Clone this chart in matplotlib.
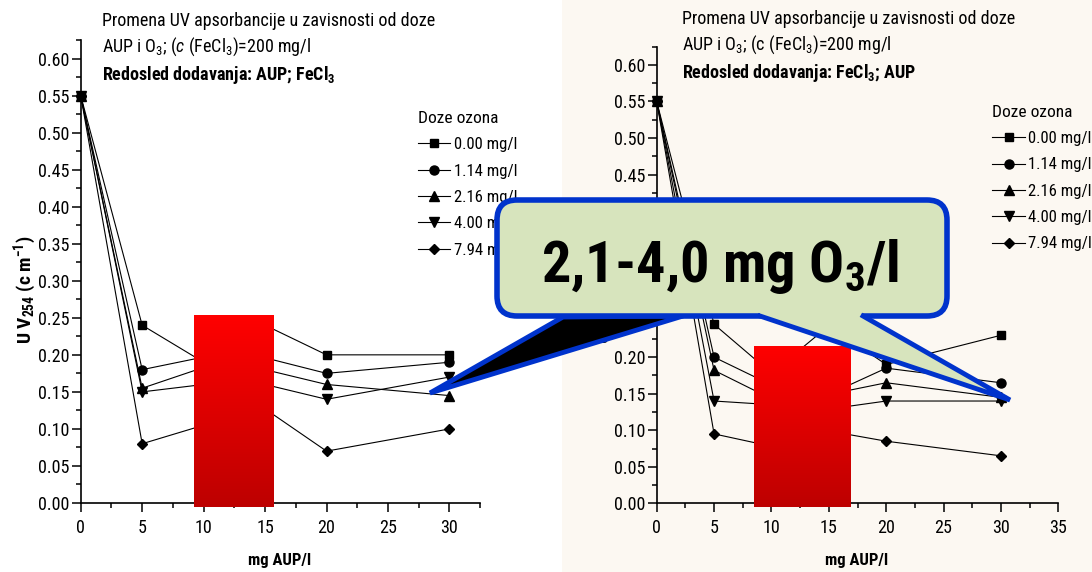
import numpy as np
import matplotlib
matplotlib.use("Agg")
import matplotlib.pyplot as plt
from matplotlib.patches import FancyBboxPatch, Polygon, Rectangle
from matplotlib.colors import LinearSegmentedColormap
from matplotlib.ticker import MultipleLocator, FormatStrFormatter
from matplotlib import font_manager

# data
aup = [0, 5, 10, 15, 20, 30]
doses = ["0.00 mg/l", "1.14 mg/l", "2.16 mg/l", "4.00 mg/l", "7.94 mg/l"]

# order: AUP; FeCl3
uv_a_000 = [0.55, 0.24, 0.19, 0.24, 0.20, 0.20]
uv_a_114 = [0.55, 0.18, 0.197, 0.196, 0.175, 0.19]
uv_a_216 = [0.55, 0.155, 0.183, 0.18, 0.16, 0.145]
uv_a_400 = [0.55, 0.15, 0.16, 0.16, 0.14, 0.17]
uv_a_794 = [0.55, 0.08, 0.105, 0.127, 0.07, 0.10]

# order: FeCl3; AUP
uv_b_000 = [0.55, 0.245, 0.178, 0.243, 0.19, 0.23]
uv_b_114 = [0.55, 0.20, 0.162, 0.149, 0.185, 0.165]
uv_b_216 = [0.55, 0.182, 0.143, 0.149, 0.165, 0.145]
uv_b_400 = [0.55, 0.14, 0.135, 0.129, 0.14, 0.14]
uv_b_794 = [0.55, 0.095, 0.078, 0.099, 0.085, 0.065]

W, H = 1092, 572
BEIGE = "#fcf8f2"
BLUE = "#0033cc"
GREEN = "#d7e4bd"
markers = ["s", "o", "^", "v", "D"]
msizes = [6, 6.5, 7, 7, 5.5]

# narrow font if one is there, else plain Liberation Sans
installed = {f.name for f in font_manager.fontManager.ttflist}
narrow = [n for n in ["Roboto Condensed", "Liberation Sans Narrow", "Open Sans Condensed"] if n in installed]
base = narrow[0] if narrow else "Liberation Sans"
plt.rcParams["font.family"] = [base, "Liberation Sans", "DejaVu Sans"]
plt.rcParams["mathtext.fontset"] = "custom"
plt.rcParams["mathtext.rm"] = base
plt.rcParams["mathtext.it"] = base + ":italic"
plt.rcParams["mathtext.bf"] = base + ":bold"

scale = 1.0 if narrow else 0.85   # shrink text a bit when no narrow face

red_cmap = LinearSegmentedColormap.from_list("red", ["#ff0000", "#bd0000"])

fig = plt.figure(figsize=(W / 100, H / 100), dpi=100)
fig.add_artist(Rectangle((562 / W, 0), 1 - 562 / W, 1, transform=fig.transFigure,
                         facecolor=BEIGE, edgecolor="none", zorder=-1))


def fx(x):
    return x / W


def fy(y):
    return 1 - y / H


def panel(ax, series, xmax, red_box, leg_anchor, bg):
    ax.set_facecolor(bg)
    for vals, m, ms, lab in zip(series, markers, msizes, doses):
        ax.plot(aup, vals, color="black", lw=0.8, marker=m, ms=ms, label=lab, clip_on=False)
    x0, x1, y0, y1 = red_box
    grad = np.linspace(0, 1, 256).reshape(-1, 1)
    ax.imshow(grad, cmap=red_cmap, extent=[x0, x1, y0, y1], aspect="auto",
              zorder=3, clip_on=False)
    ax.set_xlim(0, xmax)
    ax.set_ylim(0, 0.625)
    ax.spines["top"].set_visible(False)
    ax.spines["right"].set_visible(False)
    for s in ("left", "bottom"):
        ax.spines[s].set_linewidth(1.2)
    ax.xaxis.set_major_locator(MultipleLocator(5))
    ax.xaxis.set_minor_locator(MultipleLocator(2.5))
    ax.yaxis.set_major_locator(MultipleLocator(0.05))
    ax.yaxis.set_minor_locator(MultipleLocator(0.025))
    ax.yaxis.set_major_formatter(FormatStrFormatter("%.2f"))
    ax.tick_params(which="major", direction="out", length=6.5, width=1.1, labelsize=13 * scale)
    ax.tick_params(which="minor", direction="out", length=3.5, width=1.1)
    ax.tick_params(axis="x", which="major", pad=5)
    ax.tick_params(axis="y", which="major", pad=1.5)
    ax.legend(loc="upper left", bbox_to_anchor=leg_anchor, frameon=False,
              title="Doze ozona", alignment="left", fontsize=12 * scale,
              title_fontsize=12.5 * scale, handlelength=1.95, handletextpad=0.2,
              labelspacing=0.68, borderpad=0, borderaxespad=0)


ax1 = fig.add_axes([fx(80.7), fy(503), 399.5 / W, 463 / H])
panel(ax1, [uv_a_000, uv_a_114, uv_a_216, uv_a_400, uv_a_794], 32.5,
      (9.2, 15.7, -0.005, 0.254), (0.844, 0.847), "white")

ax2 = fig.add_axes([fx(656.7), fy(503.3), 401.6 / W, 456.6 / H])
panel(ax2, [uv_b_000, uv_b_114, uv_b_216, uv_b_400, uv_b_794], 35,
      (8.48, 16.85, -0.005, 0.2145), (0.836, 0.873), BEIGE)

# titles
tfs = 13 * scale
fig.text(fx(102), fy(21), "Promena UV apsorbancije u zavisnosti od doze", fontsize=tfs, va="center")
fig.text(fx(102), fy(47), "AUP i O$_3$; ($c$ (FeCl$_3$)=200 mg/l", fontsize=tfs, va="center")
fig.text(fx(102), fy(75), r"Redosled dodavanja: AUP; FeCl$_\mathbf{3}$", fontsize=tfs,
         weight="bold", va="center")

fig.text(fx(682), fy(19), "Promena UV apsorbancije u zavisnosti od doze", fontsize=tfs, va="center")
fig.text(fx(682), fy(45), "AUP i O$_3$; (c (FeCl$_3$)=200 mg/l", fontsize=tfs, va="center")
fig.text(fx(682), fy(73), r"Redosled dodavanja: FeCl$_\mathbf{3}$; AUP", fontsize=tfs,
         weight="bold", va="center")

ylab = r"U V$_\mathbf{254}$ (c m$^\mathbf{-1}$)"
fig.text(fx(25), fy(290), ylab, rotation=90, fontsize=14 * scale, weight="bold", ha="center", va="center")
fig.text(fx(603), fy(290), ylab, rotation=90, fontsize=14 * scale, weight="bold", ha="center", va="center")
fig.text(fx(280), fy(561), "mg AUP/l", fontsize=12 * scale, weight="bold", ha="center", va="center")
fig.text(fx(857), fy(561), "mg AUP/l", fontsize=12 * scale, weight="bold", ha="center", va="center")

# callout on top of both panels
ov = fig.add_axes([0, 0, 1, 1], zorder=10)
ov.set_xlim(0, W)
ov.set_ylim(H, 0)
ov.axis("off")
ov.patch.set_alpha(0)

ov.add_patch(Polygon([(563, 317), (430, 393), (683, 316)], closed=True, facecolor="black",
                     edgecolor=BLUE, lw=3.5, joinstyle="miter", zorder=1))
ov.add_patch(FancyBboxPatch((497, 200), 450, 116, boxstyle="round,pad=0,rounding_size=20",
                            facecolor=GREEN, edgecolor=BLUE, lw=4, zorder=2))
ov.add_patch(Polygon([(760, 309), (863, 309), (863, 316), (1010, 400), (760, 316)],
                     closed=True, facecolor=GREEN, edgecolor="none", zorder=3))
ov.plot([760, 1010, 863], [316, 400, 316], color=BLUE, lw=3.5, solid_joinstyle="miter", zorder=4)
ov.text(720, 282, r"2,1-4,0 mg O$_\mathbf{3}$/l", fontsize=42 * scale ** 1.6, weight="bold",
        ha="center", va="baseline", zorder=5)

fig.savefig("out.png", dpi=100)
